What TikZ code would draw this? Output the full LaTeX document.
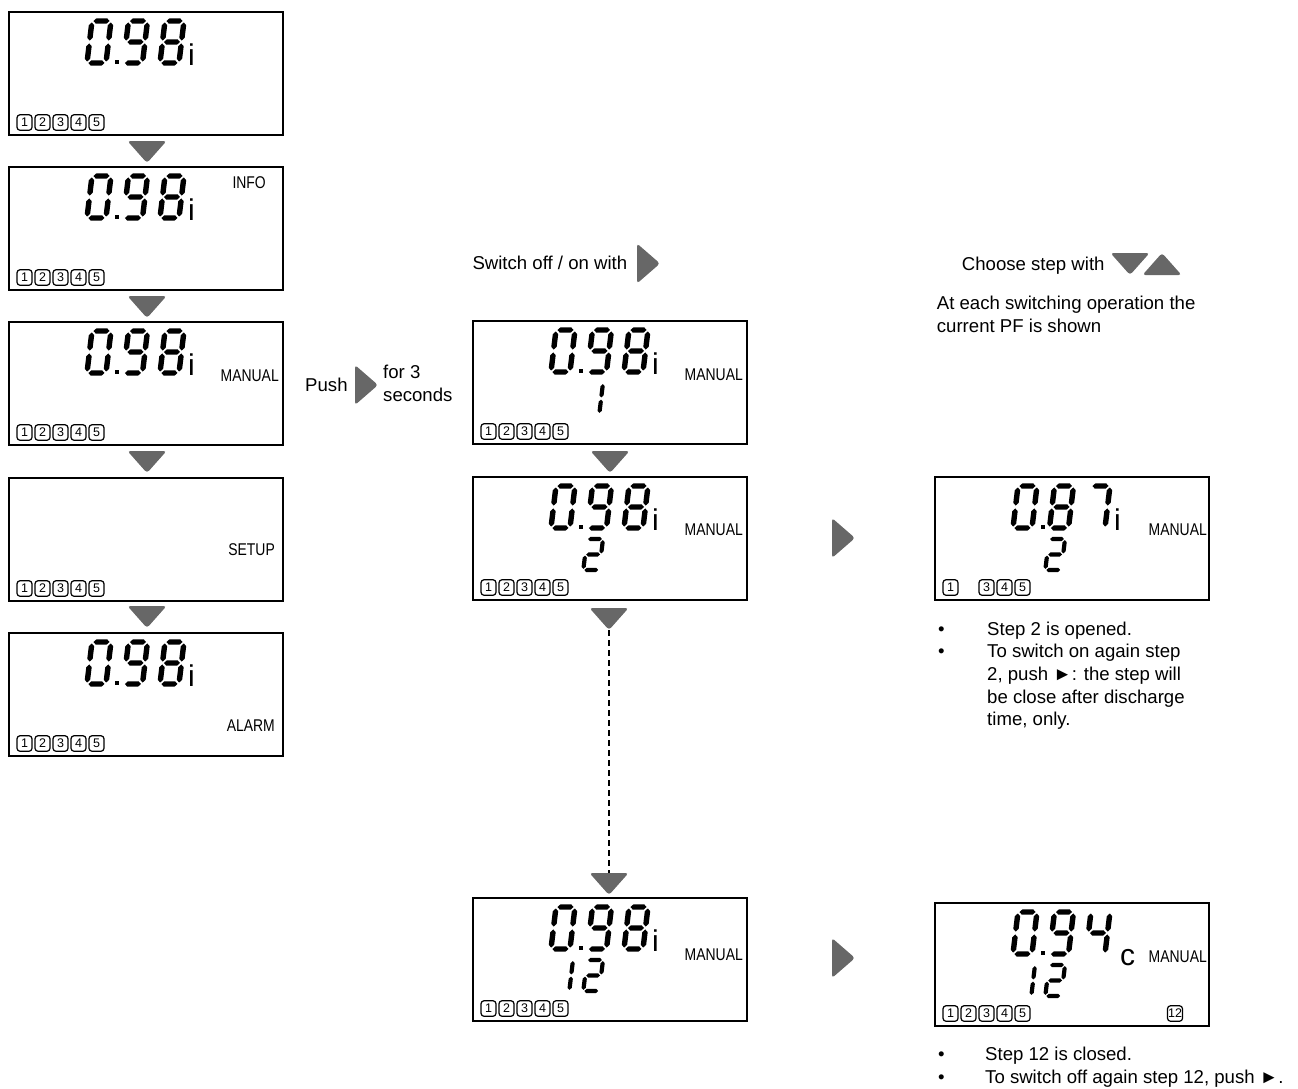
\documentclass[tikz,border=0pt]{standalone}
\usepackage{fontspec}
\setmainfont{Liberation Sans}
\usetikzlibrary{positioning}
\definecolor{keygray}{HTML}{676767}

% seven segment parts, local frame: origin top left, y down
\newcommand{\hseg}[3]{\fill (#1,#3) -- (#1+\lcdt,#3-\lcdt) -- (#2-\lcdt,#3-\lcdt) -- (#2,#3) -- (#2-\lcdt,#3+\lcdt) -- (#1+\lcdt,#3+\lcdt) -- cycle;}
\newcommand{\vseg}[3]{\fill (#1,#2) -- (#1+\lcdt,#2+\lcdt) -- (#1+\lcdt,#3-\lcdt) -- (#1,#3) -- (#1-\lcdt,#3-\lcdt) -- (#1-\lcdt,#2+\lcdt) -- cycle;}
\newcommand{\lcdsega}{\hseg{\lcdg}{\lcdw-\lcdg}{0}}
\newcommand{\lcdsegb}{\vseg{\lcdw}{\lcdg}{\lcdh/2-\lcdg}}
\newcommand{\lcdsegc}{\vseg{\lcdw}{\lcdh/2+\lcdg}{\lcdh-\lcdg}}
\newcommand{\lcdsegd}{\hseg{\lcdg}{\lcdw-\lcdg}{\lcdh}}
\newcommand{\lcdsege}{\vseg{0}{\lcdh/2+\lcdg}{\lcdh-\lcdg}}
\newcommand{\lcdsegf}{\vseg{0}{\lcdg}{\lcdh/2-\lcdg}}
\newcommand{\lcdsegg}{\hseg{\lcdg}{\lcdw-\lcdg}{\lcdh/2}}
\def\lcdzero{a,b,c,d,e,f}
\def\lcdone{b,c}
\def\lcdtwo{a,b,g,e,d}
\def\lcdfour{f,g,b,c}
\def\lcdseven{a,b,c}
\def\lcdeight{a,b,c,d,e,f,g}
\def\lcdnine{a,b,c,d,f,g}

\newcommand{\lcddigit}[5]{% left, top, height, width, segments
  \begin{scope}[shift={(#1,#2)}, xslant=0.12]
    \def\lcdh{#3}\def\lcdw{#4}%
    \pgfmathsetmacro{\lcdg}{0.035*#3}\pgfmathsetmacro{\lcdt}{0.055*#3+0.4}
    \foreach \s in #5 {\csname lcdseg\s\endcsname}
  \end{scope}}
\newcommand{\readout}[3]{%
  \lcddigit{83}{9}{42}{19}{#1}
  \lcddigit{119.5}{9}{42}{19}{#2}
  \lcddigit{156}{9}{42}{19}{#3}
  \fill (105.5,47.8) rectangle ++(4.5,4.5);}
\newcommand{\banks}[2]{%
  \foreach \k in {#2} {\node[bank] (#1-\k) at (18*\k-2.5,110.5) {\k};}}
\newcommand{\screen}[4]{% name, left, top, content
  \node[lcd] (#1) at (#2,#3) {};
  \begin{scope}[shift={(#2,#3)}] #4 \end{scope}}
\newcommand{\narrow}[1]{\scalebox{0.82}[1]{#1}}

% push keys
\newcommand{\keydown}[3]{%
  \fill[key] (#2-19.5,#3) -- (#2+19.5,#3) -- (#2,#3+22) -- cycle;
  \coordinate (#1-top) at (#2,#3);
  \coordinate (#1-tip) at (#2,#3+22);}
\newcommand{\keyup}[3]{%
  \fill[key] (#2-19.5,#3+22) -- (#2+19.5,#3+22) -- (#2,#3) -- cycle;
  \coordinate (#1-tip) at (#2,#3);}
\newcommand{\keyright}[3]{%
  \fill[key] (#2,#3-20) -- (#2,#3+20) -- (#2+23,#3) -- cycle;
  \coordinate (#1-tip) at (#2+23,#3);}

\begin{document}
\begin{tikzpicture}[x=1pt, y=-1pt,
    lcd/.style = {draw, line width=2.5pt, minimum width=274pt, minimum height=123pt, inner sep=0pt, outer sep=0pt, anchor=north west},
    bank/.style = {draw, rounded corners=3pt, line width=1.2pt, minimum width=15pt, minimum height=15.5pt, inner sep=0pt, font=\fontsize{12.5}{12.5}\selectfont},
    tag/.style = {anchor=base east, inner sep=0pt, font=\fontsize{17}{17}\selectfont},
    unit/.style = {anchor=base west, inner sep=0pt, font=\fontsize{30}{30}\selectfont},
    note/.style = {anchor=base west, inner sep=0pt, font=\fontsize{18.6}{22.7}\selectfont},
    key/.style = {fill=keygray, rounded corners=3pt},
    dotline/.style = {line width=2.8pt, dash pattern=on 6pt off 4pt}
  ]
  \useasboundingbox (0,0) rectangle (1298,1088);

  %Left column
  \screen{lcd1}{9}{12}{\readout{\lcdzero}{\lcdnine}{\lcdeight}
    \node[unit] (lcd1-unit) at (179,53) {i};
    \banks{lcd1}{1,2,3,4,5}}
  \screen{lcd2}{9}{167}{\readout{\lcdzero}{\lcdnine}{\lcdeight}
    \node[unit] (lcd2-unit) at (179,53) {i};
    \node[tag] (lcd2-tag) at (257,21) {\narrow{INFO}};
    \banks{lcd2}{1,2,3,4,5}}
  \screen{lcd3}{9}{322}{\readout{\lcdzero}{\lcdnine}{\lcdeight}
    \node[unit] (lcd3-unit) at (179,53) {i};
    \node[tag] (lcd3-tag) at (270,59) {\narrow{MANUAL}};
    \banks{lcd3}{1,2,3,4,5}}
  \screen{lcd4}{9}{478}{%
    \node[tag] (lcd4-tag) at (266,77) {\narrow{SETUP}};
    \banks{lcd4}{1,2,3,4,5}}
  \screen{lcd5}{9}{633}{\readout{\lcdzero}{\lcdnine}{\lcdeight}
    \node[unit] (lcd5-unit) at (179,53) {i};
    \node[tag] (lcd5-tag) at (266,98) {\narrow{ALARM}};
    \banks{lcd5}{1,2,3,4,5}}
  \keydown{k1}{147}{141}
  \keydown{k2}{147}{296}
  \keydown{k3}{147}{451}
  \keydown{k4}{147}{606}

  %Middle column
  \node[note] (push) at (305,391.7) {Push};
  \keyright{k10}{355}{385}
  \node[note] (hold1) at (383,378.3) {for 3};
  \node[note] (hold2) at (383,401) {seconds};
  \node[note] (toggle) at (472.3,269.5) {Switch off / on with};
  \keyright{k11}{637}{263.5}
  \screen{lcd6}{473}{321}{\readout{\lcdzero}{\lcdnine}{\lcdeight}
    \node[unit] (lcd6-unit) at (179,53) {i};
    \lcddigit{114}{62}{31}{16}{\lcdone}
    \node[tag] (lcd6-tag) at (270,59) {\narrow{MANUAL}};
    \banks{lcd6}{1,2,3,4,5}}
  \screen{lcd7}{473}{477}{\readout{\lcdzero}{\lcdnine}{\lcdeight}
    \node[unit] (lcd7-unit) at (179,53) {i};
    \lcddigit{114}{62}{31}{16}{\lcdtwo}
    \node[tag] (lcd7-tag) at (270,58) {\narrow{MANUAL}};
    \banks{lcd7}{1,2,3,4,5}}
  \screen{lcd8}{473}{898}{\readout{\lcdzero}{\lcdnine}{\lcdeight}
    \node[unit] (lcd8-unit) at (179,53) {i};
    \lcddigit{84}{62}{31}{16}{\lcdone}
    \lcddigit{114}{62}{31}{16}{\lcdtwo}
    \node[tag] (lcd8-tag) at (270,62) {\narrow{MANUAL}};
    \banks{lcd8}{1,2,3,4,5}}
  \keydown{k5}{610}{451}
  \keydown{k6}{609}{608}
  \keydown{k7}{609}{873}
  \draw[dotline] (k6-tip) -- (k7-top);

  %Right column
  \node[note] (choose) at (961.7,270) {Choose step with};
  \keydown{k12}{1130}{253}
  \keyup{k13}{1162}{253}
  \node[note] (shown1) at (936.7,309.5) {At each switching operation the};
  \node[note] (shown2) at (936.7,332.2) {current PF is shown};
  \keyright{k8}{832}{538}
  \keyright{k9}{832}{958}
  \screen{lcd9}{935}{477}{\readout{\lcdzero}{\lcdeight}{\lcdseven}
    \node[unit] (lcd9-unit) at (179,53) {i};
    \lcddigit{114}{62}{31}{16}{\lcdtwo}
    \node[tag] (lcd9-tag) at (272,58) {\narrow{MANUAL}};
    \banks{lcd9}{1,3,4,5}}
  \screen{lcd10}{935}{903}{\readout{\lcdzero}{\lcdnine}{\lcdfour}
    \node[unit] (lcd10-unit) at (185,62) {c};
    \lcddigit{84}{62}{31}{16}{\lcdone}
    \lcddigit{114}{62}{31}{16}{\lcdtwo}
    \node[tag] (lcd10-tag) at (272,59) {\narrow{MANUAL}};
    \banks{lcd10}{1,2,3,4,5}
    \node[bank] (lcd10-12) at (240,110.5) {12};}

  %Notes
  \foreach \t [count=\n] in {Step 2 is opened., To switch on again step, {2, push ►: the step will}, be close after discharge, {time, only.}}
    {\node[note] (open\n) at (987,635+22.7*\n-22.7) {\t};}
  \node[note] (bul1) at (938,635) {•};
  \node[note] (bul2) at (938,657.7) {•};
  \node[note] (close1) at (985,1060) {Step 12 is closed.};
  \node[note] (close2) at (985,1083) {To switch off again step 12, push ►.};
  \node[note] (bul3) at (938,1060) {•};
  \node[note] (bul4) at (938,1083) {•};
\end{tikzpicture}
\end{document}
